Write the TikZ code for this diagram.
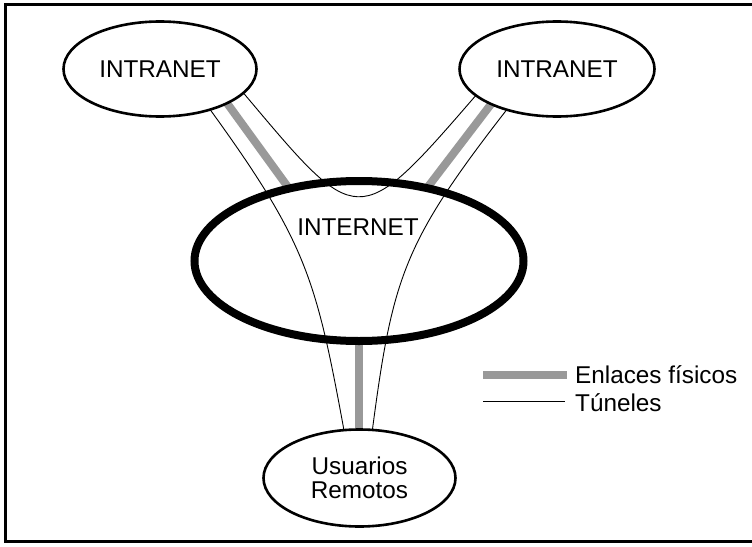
\documentclass[tikz,border=0pt]{standalone}
\usepackage{fontspec}
\setmainfont{Liberation Sans}
\usetikzlibrary{shapes.geometric,backgrounds}
\definecolor{linkgray}{RGB}{153,153,153}
\begin{document}
\begin{tikzpicture}[x=1pt,y=-1pt,
  net/.style={draw, ellipse, line width=2.6pt, inner sep=0pt, outer sep=0pt,
    font=\fontsize{24.3}{23.5}\selectfont, align=center},
  bignet/.style={draw, ellipse, line width=8pt, inner sep=0pt, outer sep=0pt,
    minimum width=329pt, minimum height=160pt},
  lbl/.style={inner sep=0pt, font=\fontsize{24.3}{23.5}\selectfont},
  physlink/.style={draw=linkgray, line width=8pt},
  tunnel/.style={draw=black, line width=0.9pt},
  framebox/.style={draw, line width=3pt}]
\useasboundingbox (0,0) rectangle (752,546);
\draw[framebox] (753,4.5) -- (5,4.5) -- (5,541.5) -- (753,541.5);

\node[net, minimum width=193pt, minimum height=95pt] (intraL) at (160,69) {INTRANET};
\node[net, minimum width=195pt, minimum height=95pt] (intraR) at (557,69) {INTRANET};
\node[bignet] (inet) at (359,261) {};
\node[lbl] (inettext) at (358,227) {INTERNET};
\node[net, minimum width=192pt, minimum height=97pt] (users) at (359.5,478) {Usuarios\\Remotos};

\begin{scope}[on background layer]
  \draw[physlink] (intraL.-27) -- (inet.134);
  \draw[physlink] (intraR.-152) -- (inet.47.5);
  \draw[physlink] (inet.south) -- (inet.south |- users.north);
  \draw[tunnel] (intraL.-39) .. controls (306,242) and (316,278) .. (users.108);
  \draw[tunnel] (intraR.-141) .. controls (403,243) and (392.5,278) .. (users.75);
  \draw[tunnel] (intraL.-16) .. controls (358,229) and (357,233) .. (intraR.-162);
\end{scope}

\node[lbl, anchor=base west] (legphys) at (575,383) {Enlaces físicos};
\node[lbl, anchor=base west] (legtun) at (575,411.5) {Túneles};
\coordinate (legphysA) at (483,375);
\coordinate (legtunA) at (483,401);
\draw[physlink, shorten >=8pt] (legphysA) -- (legphysA -| legphys.west);
\draw[tunnel, shorten >=10pt] (legtunA) -- (legtunA -| legtun.west);
\end{tikzpicture}
\end{document}
